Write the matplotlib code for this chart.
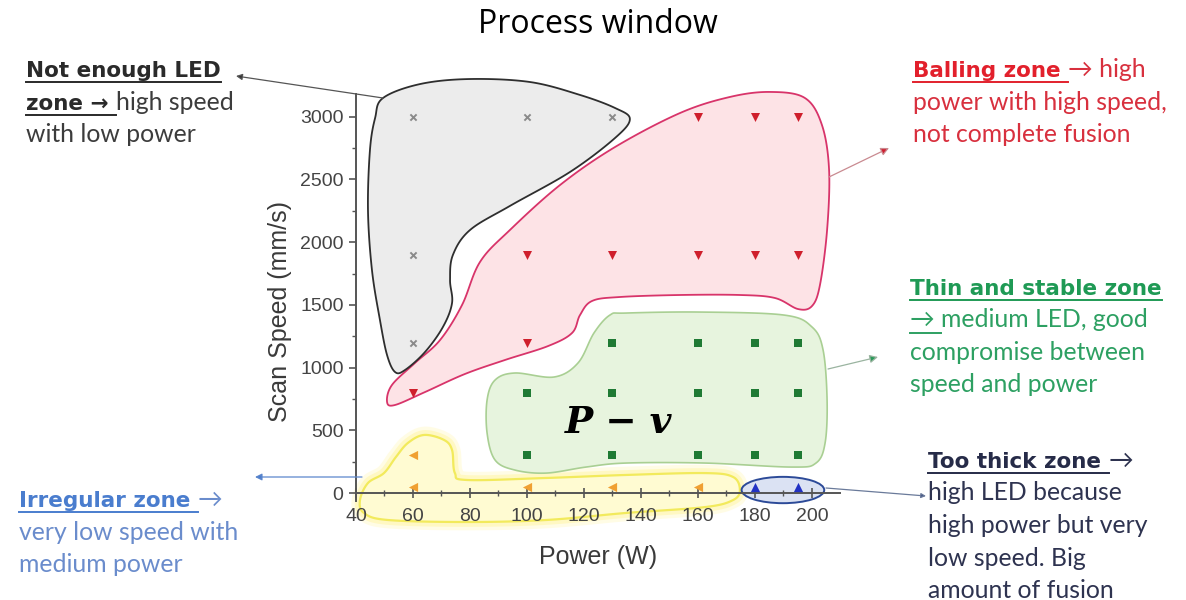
import numpy as np
import matplotlib
matplotlib.use("Agg")
import matplotlib.pyplot as plt
from matplotlib.patches import Polygon, Ellipse
from matplotlib.lines import Line2D

# ---------------- data ----------------
# Not enough LED zone (x markers)
lack_power = [60, 100, 130, 60, 60]
lack_speed = [3000, 3000, 3000, 1900, 1200]
# Balling zone (down triangles)
ball_power = [160, 180, 195, 100, 130, 160, 180, 195, 100, 60]
ball_speed = [3000, 3000, 3000, 1900, 1900, 1900, 1900, 1900, 1200, 800]
# Thin and stable zone (squares)
thin_power = [130, 160, 180, 195, 100, 130, 160, 180, 195, 100, 130, 160, 180, 195]
thin_speed = [1200, 1200, 1200, 1200, 800, 800, 800, 800, 800, 300, 300, 300, 300, 300]
# Irregular zone (left triangles)
irr_power = [60, 60, 100, 130, 160]
irr_speed = [300, 50, 50, 50, 50]
# Too thick zone (up triangles)
thick_power = [180, 195]
thick_speed = [50, 50]

x_ticks = [40, 60, 80, 100, 120, 140, 160, 180, 200]
y_ticks = [0, 500, 1000, 1500, 2000, 2500, 3000]

# zone outlines (power, speed)
lack_outline_p = [49.5, 62.5, 80.0, 101.1, 118.6, 130.9, 136.1, 130.9, 115.1, 94.0, 80.0, 74.0,
                  73.0, 73.7, 70.5, 64.2, 57.2, 53.7, 50.9, 48.4, 45.6, 44.2, 44.9, 46.7]
lack_outline_v = [3150, 3261, 3301, 3277, 3174, 3070, 2982, 2831, 2560, 2289, 2097, 1898,
                  1698, 1515, 1324, 1124, 981, 965, 1100, 1380, 1778, 2257, 2735, 2990]
ball_outline_p = [185.3, 197.5, 203.5, 206.0, 205.3, 202.8, 200.0, 195.1, 187.0, 174.7, 153.7,
                  132.6, 122.8, 118.6, 115.8, 107.4, 92.3, 78.2, 64.2, 53.7, 50.9, 52.6, 60.7,
                  69.5, 77.2, 83.5, 94.0, 111.6, 130.9, 153.7, 171.2]
ball_outline_v = [3198, 3150, 2934, 2576, 2097, 1659, 1491, 1467, 1555, 1579, 1579, 1563, 1531,
                  1419, 1276, 1172, 1061, 949, 805, 702, 726, 861, 1037, 1220, 1499, 1842, 2097,
                  2456, 2759, 3030, 3158]
thin_outline_p = [129.1, 134.7, 160.7, 190.2, 200.0, 203.9, 205.3, 204.6, 201.4, 193.0, 162.5,
                  134.7, 120.7, 106.7, 95.8, 88.8, 86.0, 86.0, 88.8, 95.8, 109.5, 117.9, 123.5]
thin_outline_v = [1419, 1435, 1443, 1419, 1324, 1140, 742, 399, 239, 207, 239, 239, 207, 159,
                  183, 263, 478, 742, 901, 957, 925, 1037, 1276]
irr_outline_p = [63.9, 70.9, 73.7, 74.7, 78.9, 106.7, 134.7, 162.5, 172.3, 174.7, 172.3, 162.5,
                 134.7, 106.7, 78.9, 51.2, 42.8, 41.4, 44.2, 49.8, 54.0, 58.2]
irr_outline_v = [463, 423, 343, 159, 104, 120, 144, 159, 128, 24, -56, -112, -159, -215, -231,
                 -215, -159, -56, 80, 159, 287, 399]
thick_center = (189.8, 24)
thick_size = (29.0, 210)

# ---------------- figure ----------------
W, H = 1186, 600
fig = plt.figure(figsize=(W / 100, H / 100), dpi=100)
fig.patch.set_facecolor("white")
ax = fig.add_axes([356 / W, 0.1093, 0.4085, 0.7337])
ax.set_xlim(40, 210)
ax.set_ylim(-330, 3180)
ax.patch.set_alpha(0)

for s in ("top", "right"):
    ax.spines[s].set_visible(False)
ax.spines["bottom"].set_position(("data", 0))
ax.spines["left"].set_bounds(-60, 3180)
for s in ("bottom", "left"):
    ax.spines[s].set_color("#555555")
    ax.spines[s].set_linewidth(1.4)
    ax.spines[s].set_zorder(2.5)

ax.set_xticks(x_ticks)
ax.set_xticks(np.arange(50, 210, 20), minor=True)
ax.set_yticks(y_ticks)
ax.set_yticks(np.arange(250, 3180, 500), minor=True)
ax.tick_params(axis="x", which="major", direction="inout", length=7, width=1.2,
               color="#555555", labelsize=14, labelcolor="#444444", pad=7)
ax.tick_params(axis="x", which="minor", direction="inout", length=4, width=1.0, color="#555555")
ax.tick_params(axis="y", which="major", direction="out", length=5, width=1.2,
               color="#555555", labelsize=14, labelcolor="#444444", pad=4)
ax.tick_params(axis="y", which="minor", direction="out", length=3, width=1.0, color="#555555")
for lab in ax.get_xticklabels() + ax.get_yticklabels():
    lab.set_family("Liberation Sans")


def smooth_closed(xs, ys, n=16):
    pts = np.column_stack([xs, ys]).astype(float)
    N = len(pts)
    t = np.linspace(0, 1, n, endpoint=False)[:, None]
    segs = []
    for i in range(N):
        p0, p1, p2, p3 = pts[(i - 1) % N], pts[i], pts[(i + 1) % N], pts[(i + 2) % N]
        segs.append(0.5 * (2 * p1 + (-p0 + p2) * t + (2 * p0 - 5 * p1 + 4 * p2 - p3) * t ** 2
                           + (-p0 + 3 * p1 - 3 * p2 + p3) * t ** 3))
    return np.vstack(segs)


def zone(xs, ys, fc, ec, lw=1.3, z=1.0):
    poly = Polygon(smooth_closed(xs, ys), closed=True, fc=fc, ec=ec, lw=lw,
                   clip_on=False, zorder=z)
    ax.add_patch(poly)
    return poly


# irregular zone with a soft glow
glow = smooth_closed(irr_outline_p, irr_outline_v)
for lw_g, a_g in ((12, 0.25), (7, 0.45)):
    ax.add_patch(Polygon(glow, closed=True, fc="none", ec="#fff59a", lw=lw_g, alpha=a_g,
                         clip_on=False, zorder=0.9))
zone(irr_outline_p, irr_outline_v, "#fffbd2", "#f2ea5c", lw=1.6)
zone(thin_outline_p, thin_outline_v, "#e7f4de", "#a9cf93", lw=1.2)
zone(ball_outline_p, ball_outline_v, "#fde3e6", "#d8346a", lw=1.3)
zone(lack_outline_p, lack_outline_v, "#ececec", "#2e2e2e", lw=1.3, z=1.1)
ax.add_patch(Ellipse(thick_center, thick_size[0], thick_size[1], fc="#dbe2f3", ec="#2c4a98",
                     lw=1.4, clip_on=False, zorder=1.2))

ax.scatter(lack_power, lack_speed, marker="x", s=20, c="#8a8a8a", linewidths=1.4, zorder=3)
ax.scatter(ball_power, ball_speed, marker="v", s=42, c="#cf1f2c", linewidths=0, zorder=3)
ax.scatter(thin_power, thin_speed, marker="s", s=26, c="#1f7a34", linewidths=0, zorder=3)
ax.scatter(irr_power, irr_speed, marker="<", s=44, c="#f0a032", linewidths=0, zorder=3)
ax.scatter(thick_power, thick_speed, marker="^", s=44, c="#2232c4", linewidths=0, zorder=3)

ax.text(132, 478, "P − v", family="DejaVu Serif", fontweight="bold", fontstyle="italic",
        fontsize=27, ha="center", va="baseline", color="black", zorder=4)


def fx(x):
    return x / W


def fy(y):
    return 1 - y / H


fig.text(fx(598), fy(33), "Process window", family="Open Sans", fontsize=23,
         ha="center", va="baseline", color="black")
fig.text(fx(598), fy(557), "Power (W)", family="Liberation Sans", fontsize=18,
         ha="center", va="center", color="#3a3a3a")
fig.text(fx(280), fy(311), "Scan Speed (mm/s)", family="Liberation Sans", fontsize=18,
         ha="center", va="center", rotation=90, color="#3a3a3a")

# ---------------- zone descriptions ----------------
REG = dict(family=["Lato", "DejaVu Sans"], fontsize=17.8, fontweight="normal")
BOLD = dict(family=["DejaVu Sans"], fontsize=15.5, fontweight="bold")
renderer = fig.canvas.get_renderer()


def text_width(s, style):
    a = fig.text(0, 0, "|" + s + "|", **style)
    b = fig.text(0, 0, "||", **style)
    width = a.get_window_extent(renderer).width - b.get_window_extent(renderer).width
    a.remove()
    b.remove()
    return width


def rich_line(x, y, runs):
    cx = x
    for s, color, bold, underline in runs:
        style = BOLD if bold else REG
        fig.text(fx(cx), fy(y), s, color=color, ha="left", va="baseline", **style)
        w = text_width(s, style)
        if underline:
            fig.add_artist(Line2D([fx(cx), fx(cx + w)], [fy(y + 5), fy(y + 5)],
                                  color=color, lw=1.4))
        cx += w


def block(x, y0, lines, step=32.5):
    for i, runs in enumerate(lines):
        rich_line(x, y0 + i * step, runs)


g1, g2 = "#2a2a2a", "#3c3c3c"
block(26, 77, [
    [("Not enough LED", g1, True, True)],
    [("zone → ", g1, True, True), ("high speed", g2, False, False)],
    [("with low power", g2, False, False)],
])
r1, r2 = "#e2202c", "#d8303e"
block(913, 77, [
    [("Balling zone ", r1, True, True), ("→ high", r2, False, False)],
    [("power with high speed,", r2, False, False)],
    [("not complete fusion", r2, False, False)],
])
t1, t2 = "#1f9a55", "#2da062"
block(910, 295, [
    [("Thin and stable zone", t1, True, True)],
    [("→ ", t2, False, True), ("medium LED, good", t2, False, False)],
    [("compromise between", t2, False, False)],
    [("speed and power", t2, False, False)],
])
k1, k2 = "#262b48", "#2e3350"
block(928, 468, [
    [("Too thick zone ", k1, True, True), ("→", k2, False, False)],
    [("high LED because", k2, False, False)],
    [("high power but very", k2, False, False)],
    [("low speed. Big", k2, False, False)],
    [("amount of fusion", k2, False, False)],
])
b1, b2 = "#4a7dce", "#6a8ccc"
block(19, 507, [
    [("Irregular zone ", b1, True, True), ("→", b2, False, False)],
    [("very low speed with", b2, False, False)],
    [("medium power", b2, False, False)],
])


# ---------------- leader arrows ----------------
def leader(x0, y0, x1, y1, line_c, head_c, ms=11):
    ax.annotate("", xy=(x1, H - y1), xytext=(x0, H - y0), xycoords="figure pixels",
                textcoords="figure pixels", annotation_clip=False,
                arrowprops=dict(arrowstyle="-|>", fc=head_c, ec=line_c, lw=0.9,
                                mutation_scale=ms, shrinkA=0, shrinkB=0))


leader(383, 98, 236, 76, "#555555", "#333333", ms=9)
leader(829, 177, 889, 148, "#c98a90", "#d01e30", ms=12)
leader(828, 369, 878, 357, "#9ab4a0", "#2a9a5a", ms=12)
leader(362, 477, 255, 477, "#5b86cc", "#4a7dce", ms=10)
leader(826, 488, 926, 496, "#6a7a9a", "#3a4a80", ms=7)

fig.savefig("out.png", dpi=100)
